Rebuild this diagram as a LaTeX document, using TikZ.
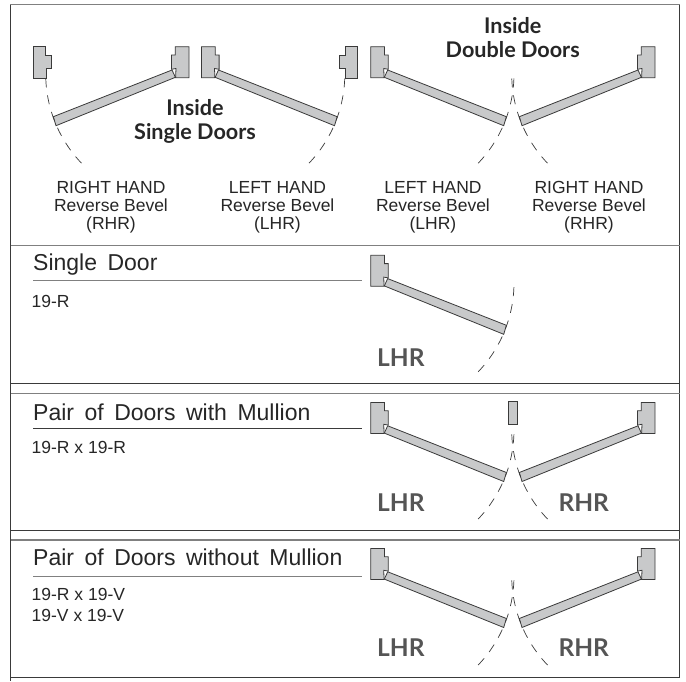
\documentclass[tikz,border=0pt]{standalone}
\usepackage{fontspec}
\setmainfont{Liberation Sans}
\newfontfamily\latofont{Lato}[BoldFont=Lato Bold]
\usepackage{xcolor}
\definecolor{leafgray}{HTML}{C8C9CA}
\definecolor{edgedark}{HTML}{3A3A3A}
\definecolor{rulegray}{HTML}{808080}
\definecolor{markgray}{HTML}{555555}
\newcommand{\titlewide}[1]{\spaceskip=10.5pt\relax #1}
\tikzset{
	panelline/.style={edgedark, line width=0.8pt},
	panelhead/.style={rulegray, line width=1.5pt},
	titletext/.style={anchor=base west, inner sep=0pt, text=black!85, font=\fontsize{23}{23}\selectfont},
	parttext/.style={anchor=north west, inner sep=0pt, align=left, text=black!85, font=\fontsize{17.5}{21}\selectfont},
	handtext/.style={anchor=north, inner sep=0pt, align=center, text=black!85, font=\fontsize{17.5}{17.8}\selectfont},
	insidetext/.style={inner sep=0pt, align=center, text=black!85, font=\latofont\bfseries\fontsize{21.6}{24}\selectfont},
	marktext/.style={anchor=base west, inner sep=0pt, text=markgray, font=\latofont\bfseries\fontsize{24.5}{25}\selectfont},
	doorleaf/.pic={
		% frame
		\filldraw[fill=leafgray, draw=edgedark, line width=0.8pt] (0,0) -- (13.8,0) -- (13.8,8.3) -- (17.6,8.3) -- (17.6,22.6) -- (13,21.8) -- (13.4,31) -- (0,31) -- cycle;
		% leaf
		\filldraw[fill=leafgray, draw=edgedark, line width=0.8pt] (17,23.3) -- (135.7,70) -- (133,79) -- (13.6,30.6) -- cycle;
		% swing
		\draw[edgedark, line width=0.7pt, dash pattern=on 9pt off 8pt] ([shift={(2:129)}]14.3,27.3) arc (2:45:129);
	},
	strikejamb/.pic={
		\filldraw[fill=leafgray, draw=edgedark, line width=0.8pt] (0,0) -- (12.4,0) -- (12.4,8.3) -- (18.4,8.3) -- (18.4,21.6) -- (12.7,21.6) -- (12.7,31.6) -- (0,31.6) -- cycle;
	}
}
\begin{document}
\begin{tikzpicture}[x=1pt, y=-1pt]
	\useasboundingbox (0,0) rectangle (686,681);
	% draw panels
	\draw[panelline] (10.5,4.7) -- (10.5,681);
	\draw[panelline] (679.7,4.7) -- (679.7,678);
	\draw[panelhead] (10,4.7) -- (680.2,4.7);
	\draw[panelhead] (10.5,245.7) -- (679.7,245.7);
	\draw[panelline] (10.5,383.3) -- (679.7,383.3);
	\draw[panelhead] (10.5,393.3) -- (679.7,393.3);
	\draw[panelline] (10.5,530.7) -- (679.7,530.7);
	\draw[panelhead] (10.5,540) -- (679.7,540);
	\draw[panelline] (10.5,677.3) -- (679.7,677.3);
	% draw title rules
	\draw[rulegray, line width=1pt] (33,280.7) -- (361.5,280.7);
	\draw[edgedark, line width=0.7pt] (33,428.3) -- (361.5,428.3);
	\draw[rulegray, line width=1pt] (33,576) -- (361.5,576);
	% top row
	\pic at (33.3,46.7) {strikejamb};
	\pic at (189,46.7) [xscale=-1] {doorleaf};
	\pic at (201.5,46.7) {doorleaf};
	\pic at (357.7,46.7) [xscale=-1] {strikejamb};
	\pic at (370.7,46.7) {doorleaf};
	\pic at (655,46.7) [xscale=-1] {doorleaf};
	\node[insidetext] (insidesingle) at (195,121) {Inside\\Single Doors};
	\node[insidetext] (insidedouble) at (512.7,38) {Inside\\Double Doors};
	\node[handtext] (handa) at (111,181.5) {RIGHT HAND\\Reverse Bevel\\(RHR)};
	\node[handtext] (handb) at (277.5,181.5) {LEFT HAND\\Reverse Bevel\\(LHR)};
	\node[handtext] (handc) at (433,181.5) {LEFT HAND\\Reverse Bevel\\(LHR)};
	\node[handtext] (handd) at (589,181.5) {RIGHT HAND\\Reverse Bevel\\(RHR)};
	% single door
	\node[titletext] (titlesingle) at (33,270.7) {\titlewide{Single Door}};
	\node[parttext] (partsingle) at (31.5,295) {19-R};
	\pic at (370.7,255.3) {doorleaf};
	\node[marktext] (marksingle) at (377,366) {LHR};
	% pair with mullion
	\node[titletext] (titlemullion) at (33,420) {\titlewide{Pair of Doors with Mullion}};
	\node[parttext] (partmullion) at (31.5,441) {19-R x 19-R};
	\pic at (370.7,402.5) {doorleaf};
	\pic at (655,402.5) [xscale=-1] {doorleaf};
	\filldraw[fill=leafgray, draw=edgedark, line width=0.8pt] (508.3,401.7) rectangle (517.7,424.3);
	\node[marktext] (markmullona) at (377,511.7) {LHR};
	\node[marktext] (markmullonb) at (558.3,511.7) {RHR};
	% pair without mullion
	\node[titletext] (titlenomullion) at (33,565.7) {\titlewide{Pair of Doors without Mullion}};
	\node[parttext] (partnomullion) at (31.5,588) {19-R x 19-V\\19-V x 19-V};
	\pic at (370.7,548.5) {doorleaf};
	\pic at (655,548.5) [xscale=-1] {doorleaf};
	\node[marktext] (marknonea) at (377,656.7) {LHR};
	\node[marktext] (marknoneb) at (558.3,656.7) {RHR};
\end{tikzpicture}
\end{document}
